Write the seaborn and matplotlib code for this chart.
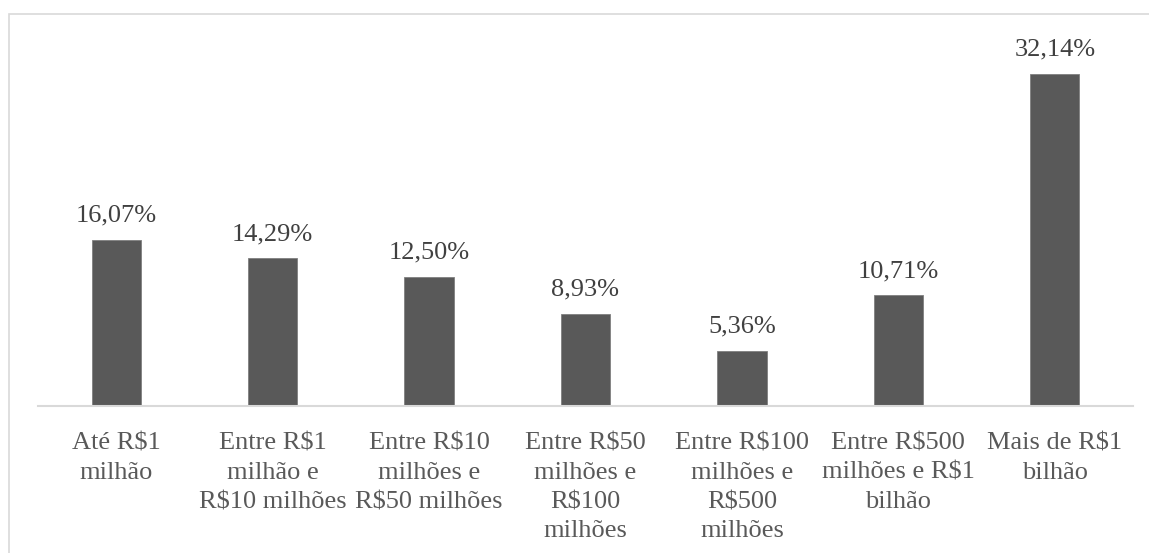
import matplotlib
matplotlib.use("Agg")
import matplotlib.pyplot as plt
import seaborn as sns
import pandas as pd
from matplotlib.patches import Rectangle

categories = [
    "Até R$1\nmilhão",
    "Entre R$1\nmilhão e\nR$10 milhões",
    "Entre R$10\nmilhões e\nR$50 milhões",
    "Entre R$50\nmilhões e\nR$100\nmilhões",
    "Entre R$100\nmilhões e\nR$500\nmilhões",
    "Entre R$500\nmilhões e R$1\nbilhão",
    "Mais de R$1\nbilhão",
]
values = [16.07, 14.29, 12.50, 8.93, 5.36, 10.71, 32.14]
value_labels = ["16,07%", "14,29%", "12,50%", "8,93%", "5,36%", "10,71%", "32,14%"]

sns.set_theme(style="white")
plt.rcParams["font.family"] = ["Liberation Serif", "DejaVu Serif"]

W, H = 1149, 553
fig = plt.figure(figsize=(W / 100, H / 100), dpi=100)
fig.patch.set_facecolor("white")

# outer chart frame (cropped at right and bottom)
fig.add_artist(Rectangle((9 / W, -0.1), 1.2, (H - 14) / H + 0.1,
                         transform=fig.transFigure, fill=False,
                         edgecolor="#d9d9d9", linewidth=1.2))

left, right, bottom, top = 38, 1133, 406, 30
ax = fig.add_axes([left / W, (H - bottom) / H, (right - left) / W, (bottom - top) / H])

df = pd.DataFrame({"cat": categories, "val": values})
sns.barplot(data=df, x="cat", y="val", color="#595959", width=0.315,
            edgecolor="#7f7f7f", linewidth=0.6, ax=ax, saturation=1)

px_per_unit = 166 / 16.07
ax.set_ylim(0, (bottom - top) / px_per_unit)
ax.set_xlim(-0.5, len(categories) - 0.5)

for i, (v, lab) in enumerate(zip(values, value_labels)):
    ax.annotate(lab, (i, v), xytext=(0, 13), textcoords="offset points",
                ha="center", va="baseline", fontsize=19, color="#404040")

ax.set_xlabel("")
ax.set_ylabel("")
ax.set_yticks([])
ax.tick_params(axis="x", length=0, pad=19, labelsize=19, labelcolor="#595959")
for t in ax.get_xticklabels():
    t.set_linespacing(1.43)
for s in ["top", "right", "left"]:
    ax.spines[s].set_visible(False)
ax.spines["bottom"].set_color("#d9d9d9")
ax.spines["bottom"].set_linewidth(1.5)
ax.set_facecolor("white")

fig.savefig("out.png", dpi=100, facecolor="white")
